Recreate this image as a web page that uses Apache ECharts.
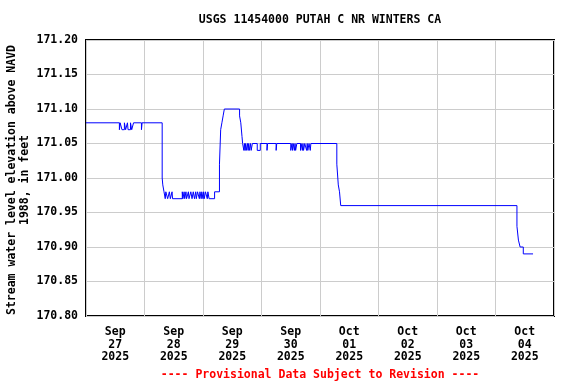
<!DOCTYPE html>
<html>
<head>
<meta charset="utf-8">
<script src="https://cdn.jsdelivr.net/npm/echarts@6/dist/echarts.min.js"></script>
<style>
  html, body { margin: 0; padding: 0; background: #fff; }
  #chart { width: 576px; height: 384px; }
</style>
</head>
<body>
<div id="chart"></div>
<script>
// ---- data ----
const chartTitle = "USGS 11454000 PUTAH C NR WINTERS CA";
const yAxisTitle = "Stream water level elevation above NAVD\n1988, in feet";
const footerText = "---- Provisional Data Subject to Revision ----";
const dayLabels = ["Sep\n27\n2025", "Sep\n28\n2025", "Sep\n29\n2025", "Sep\n30\n2025",
                   "Oct\n01\n2025", "Oct\n02\n2025", "Oct\n03\n2025", "Oct\n04\n2025"];
// hours since 2025-09-27 00:00
const hours = [
  0, 13.7, 14.0, 14.75, 15.75, 16.25, 17.0, 17.25, 18.25, 18.75, 19.5, 22.75, 23.0,
  31.25, 31.5, 32.0, 32.5, 32.75, 33.5, 34.2, 34.6, 35.3, 35.5,
  39.5, 39.75, 40.25, 40.5, 41.0, 41.25, 42.0, 42.25, 43.0, 43.5, 44.0, 44.5, 45.0, 45.25,
  45.75, 46.5, 46.75, 47.25, 47.5, 48.0, 48.25, 48.5, 49.0, 49.75, 50.0, 50.5, 52.75,
  54.75, 55.25, 55.75, 56.25, 56.75, 63.0, 63.5, 64.0, 64.25,
  64.75, 65.0, 65.25, 65.5, 65.75, 66.25, 66.5, 66.75, 67.0, 67.5, 67.75, 68.25, 70.25, 71.5,
  74.25, 74.5, 78.0, 78.25, 84.0, 84.5, 84.75, 85.0, 85.5, 85.75, 86.0, 86.5, 88.0, 88.25,
  88.75, 89.0, 89.25, 89.75, 90.5, 90.75, 91.0, 91.5, 92.0, 92.25,
  102.9, 103.5, 104.0, 104.5,
  176.8, 177.4, 178.1, 179.4, 183.4
];
const stage = [
  171.08, 171.07, 171.08, 171.07, 171.08, 171.07, 171.08, 171.07, 171.08, 171.07, 171.08, 171.07, 171.08,
  171.00, 170.99, 170.98, 170.97, 170.98, 170.97, 170.98, 170.97, 170.98, 170.97,
  170.98, 170.97, 170.98, 170.97, 170.98, 170.97, 170.98, 170.97, 170.98, 170.97, 170.98, 170.97, 170.98, 170.97,
  170.98, 170.97, 170.98, 170.97, 170.98, 170.97, 170.98, 170.97, 170.98, 170.97, 170.98, 170.97, 170.98,
  171.02, 171.07, 171.08, 171.09, 171.10, 171.09, 171.08, 171.06, 171.05,
  171.04, 171.05, 171.04, 171.05, 171.04, 171.05, 171.04, 171.05, 171.04, 171.05, 171.04, 171.05, 171.04, 171.05,
  171.04, 171.05, 171.04, 171.05, 171.04, 171.05, 171.04, 171.05, 171.04, 171.05, 171.04, 171.05, 171.04, 171.05,
  171.04, 171.05, 171.04, 171.05, 171.04, 171.05, 171.04, 171.05, 171.04, 171.05,
  171.02, 170.99, 170.98, 170.96,
  170.93, 170.91, 170.90, 170.89, 170.89
];
const yMin = 170.80, yMax = 171.20, yStep = 0.05;
const xMinHours = 0, xMaxHours = 192, xStepHours = 24;

// ---- chart ----
const FONT = '"DejaVu Sans Mono", "Liberation Mono", monospace';
const chart = echarts.init(document.getElementById('chart'), null, { renderer: 'canvas' });
const seriesData = hours.map((h, i) => [h, stage[i]]);

chart.setOption({
  animation: false,
  backgroundColor: '#ffffff',
  grid: {
    left: 86, right: 22, top: 40, bottom: 68,
    containLabel: false, outerBoundsMode: 'none',
    show: true, borderColor: '#000000', borderWidth: 2, backgroundColor: 'transparent'
  },
  graphic: [
    { type: 'text', x: 320, y: 20,
      style: { text: chartTitle, font: 'bold 11.5px ' + FONT, fill: '#000',
               align: 'center', verticalAlign: 'middle' } },
    { type: 'text', x: 320, y: 375,
      style: { text: footerText, font: 'bold 11.5px ' + FONT, fill: '#ff0000',
               align: 'center', verticalAlign: 'middle' } },
    { type: 'text', x: 18.5, y: 180, rotation: Math.PI / 2,
      style: { text: yAxisTitle, font: 'bold 11.5px ' + FONT, fill: '#000', lineHeight: 13,
               align: 'center', verticalAlign: 'middle' } }
  ],
  xAxis: [
    {
      type: 'value', min: xMinHours, max: xMaxHours, interval: xStepHours,
      axisLine: { show: false }, axisTick: { show: false }, axisLabel: { show: false },
      splitLine: { show: true, lineStyle: { color: '#cccccc', width: 1 } }
    },
    {
      type: 'category', data: dayLabels, boundaryGap: true, position: 'bottom',
      axisLine: { show: false }, axisTick: { show: false }, splitLine: { show: false },
      axisLabel: { color: '#000', fontFamily: FONT, fontWeight: 'bold', fontSize: 11.5,
                   lineHeight: 12.5, margin: 10, interval: 0 }
    }
  ],
  yAxis: {
    type: 'value', min: yMin, max: yMax, interval: yStep,
    axisLine: { show: false }, axisTick: { show: false },
    axisLabel: { color: '#000', fontFamily: FONT, fontWeight: 'bold', fontSize: 11.5, margin: 8,
                 formatter: v => v.toFixed(2) },
    splitLine: { show: true, lineStyle: { color: '#cccccc', width: 1 } }
  },
  series: [{
    type: 'line', xAxisIndex: 0, yAxisIndex: 0, data: seriesData, step: 'end',
    showSymbol: false, symbol: 'none',
    lineStyle: { color: '#0000ff', width: 1 }
  }]
});
</script>
</body>
</html>
